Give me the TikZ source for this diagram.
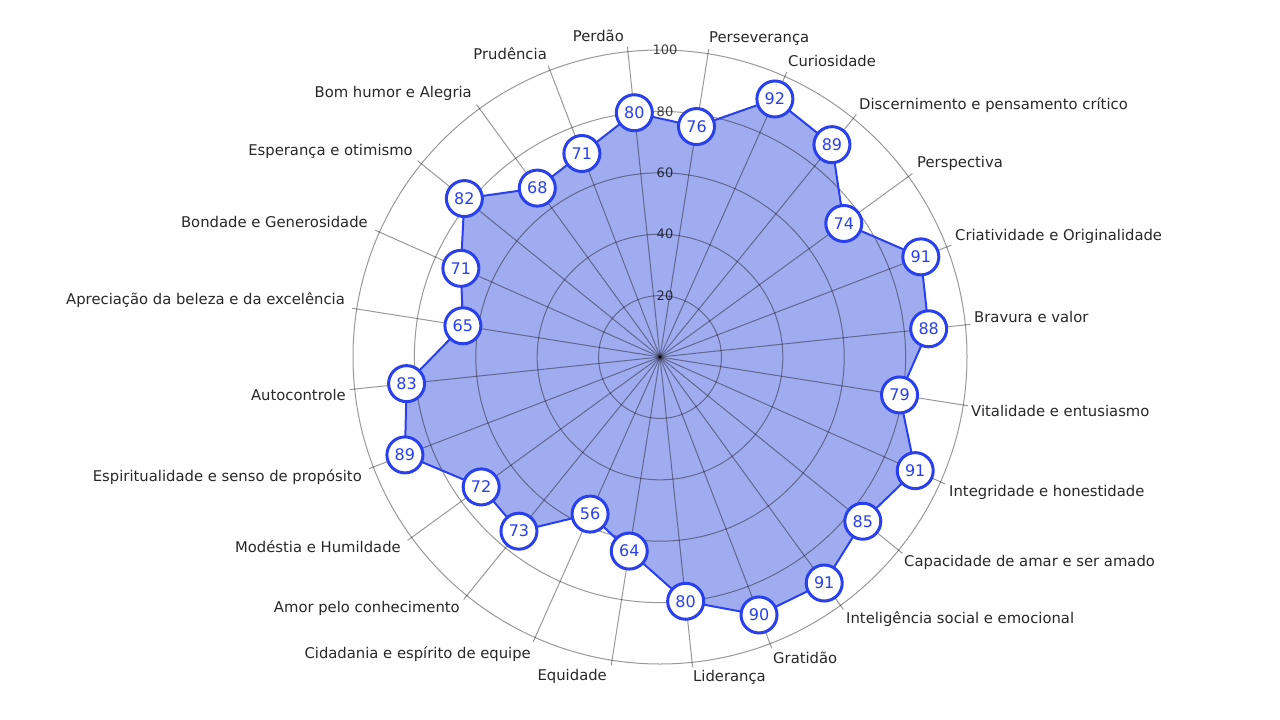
\documentclass[tikz,border=0pt]{standalone}
\usepackage{fontspec}
\setmainfont{DejaVu Sans}
\definecolor{lineblue}{RGB}{40,64,240}
\definecolor{fillblue}{RGB}{160,172,240}
\definecolor{labelgray}{RGB}{40,40,40}
\begin{document}
\begin{tikzpicture}[x=1pt,y=-1pt,
  lbl/.style={inner sep=0pt, text=labelgray, font=\fontsize{14.8}{16}\selectfont, text height=10pt, text depth=3pt},
  val/.style={circle, draw=lineblue, line width=3pt, fill=white, minimum size=36pt, inner sep=0pt, text=lineblue, font=\fontsize{16}{18}\selectfont},
  gridline/.style={draw=black, draw opacity=0.4, line width=1pt},
  ticklbl/.style={inner sep=0pt, text=black, text opacity=0.75, font=\fontsize{13}{15}\selectfont}]
\useasboundingbox (0,0) rectangle (1280,720);
\fill[white] (0,0) rectangle (1280,720);
\begin{scope}[shift={(660,357)}]
  \coordinate (O) at (0,0);
  \foreach \v [count=\i from 0] in {76,92,89,74,91,88,79,91,85,91,90,80,64,56,73,72,89,83,65,71,82,68,71,80}
    {\coordinate (p\i) at ({15*\i-81}:{\v*3.07});}
  \fill[fillblue] (p0) \foreach \i in {1,...,23}{ -- (p\i)} -- cycle;
  \foreach \k in {1,...,5}
    \draw[gridline] (O) circle[radius={61.4*\k}];
  \foreach \i in {0,...,23}
    {\coordinate (e\i) at ({15*\i-81}:312);
     \draw[gridline] (O) -- (e\i);}
  \draw[lineblue, line width=2pt, line join=round] (p0) \foreach \i in {1,...,23}{ -- (p\i)} -- cycle;
  \foreach \k/\t in {1/20,2/40,3/60,4/80,5/100}
    \node[ticklbl] (t\t) at (5,{-61.4*\k}) {\t};
  \foreach \v [count=\i from 0] in {76,92,89,74,91,88,79,91,85,91,90,80,64,56,73,72,89,83,65,71,82,68,71,80}
    \node[val] (v\i) at (p\i) {\v};
\end{scope}
% right-side labels
\node[lbl, anchor=west] (l0) at (709,39) {Perseverança};
\node[lbl, anchor=west] (l1) at (788,63) {Curiosidade};
\node[lbl, anchor=west] (l2) at (859,106) {Discernimento e pensamento crítico};
\node[lbl, anchor=west] (l3) at (917,164) {Perspectiva};
\node[lbl, anchor=west] (l4) at (955,237) {Criatividade e Originalidade};
\node[lbl, anchor=west] (l5) at (974,319) {Bravura e valor};
\node[lbl, anchor=west] (l6) at (971,413) {Vitalidade e entusiasmo};
\node[lbl, anchor=west] (l7) at (949,493) {Integridade e honestidade};
\node[lbl, anchor=west] (l8) at (904,563) {Capacidade de amar e ser amado};
\node[lbl, anchor=west] (l9) at (846,620) {Inteligência social e emocional};
\node[lbl, anchor=west] (l10) at (773,660) {Gratidão};
\node[lbl, anchor=west] (l11) at (693,678) {Liderança};
% left-side labels
\node[lbl, anchor=east] (l12) at (607,677) {Equidade};
\node[lbl, anchor=east] (l13) at (531,655) {Cidadania e espírito de equipe};
\node[lbl, anchor=east] (l14) at (460,609) {Amor pelo conhecimento};
\node[lbl, anchor=east] (l15) at (401,549) {Modéstia e Humildade};
\node[lbl, anchor=east] (l16) at (362,478) {Espiritualidade e senso de propósito};
\node[lbl, anchor=east] (l17) at (346,397) {Autocontrole};
\node[lbl, anchor=east] (l18) at (345,301) {Apreciação da beleza e da excelência};
\node[lbl, anchor=east] (l19) at (368,224) {Bondade e Generosidade};
\node[lbl, anchor=east] (l20) at (413,152) {Esperança e otimismo};
\node[lbl, anchor=east] (l21) at (472,94) {Bom humor e Alegria};
\node[lbl, anchor=east] (l22) at (547,56) {Prudência};
\node[lbl, anchor=east] (l23) at (624,38) {Perdão};
\end{tikzpicture}
\end{document}
